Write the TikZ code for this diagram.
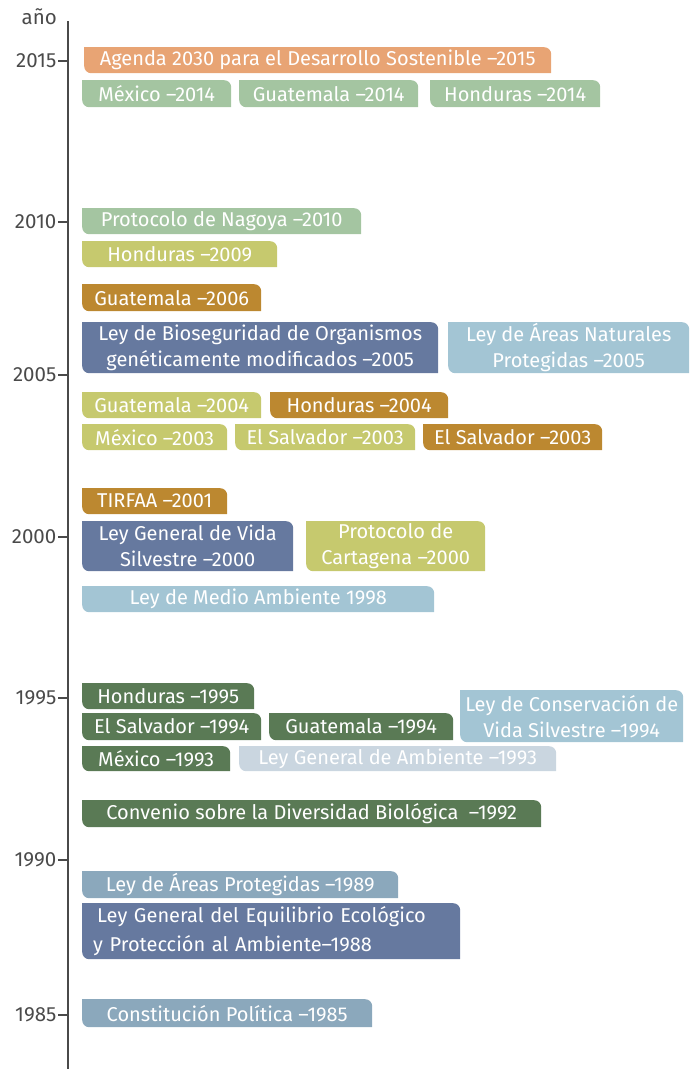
\documentclass[tikz,border=0pt]{standalone}
\usepackage{fontspec}
\newfontfamily\hitofont{Fira Sans}
\usetikzlibrary{positioning}
\definecolor{naranja}{HTML}{E8A474}
\definecolor{verdeclaro}{HTML}{A4C5A1}
\definecolor{amarillo}{HTML}{C6C96E}
\definecolor{ocre}{HTML}{BC8830}
\definecolor{azulpizarra}{HTML}{66799F}
\definecolor{celeste}{HTML}{A3C5D4}
\definecolor{verdeoscuro}{HTML}{5A7A55}
\definecolor{palido}{HTML}{CAD6E0}
\definecolor{grisazul}{HTML}{8BA8BC}
\definecolor{gris}{HTML}{4A4A4A}
\tikzset{
  hito/.style={
    inner sep=0pt,
    anchor=north west,
    align=center,
    text=white,
    font=\hitofont\fontsize{20}{26}\selectfont,
    path picture={
      \fill[#1] (path picture bounding box.north west)
        -- ([xshift=-7pt]path picture bounding box.north east)
        arc[start angle=90, end angle=0, radius=7pt]
        -- (path picture bounding box.south east)
        -- ([xshift=7pt]path picture bounding box.south west)
        arc[start angle=270, end angle=180, radius=7pt]
        -- cycle;
    }
  },
  caja/.style 2 args={minimum width=#1pt, minimum height=#2pt},
  eje/.style={draw=gris, line width=1.3pt},
  anio/.style={anchor=east, text=gris, inner sep=0pt, font=\hitofont\fontsize{20.5}{22}\selectfont}
}

\begin{document}
\begin{tikzpicture}[x=1pt, y=-1pt]
  \useasboundingbox (0,0) rectangle (696,1069);

  \node[anio] (titulo) at (57,17) {año};
  \coordinate (ejearriba) at (68,21);
  \coordinate (ejeabajo) at (68,1069);
  \draw[eje] (ejearriba) -- (ejeabajo);
  \foreach \anio/\y in {2015/61, 2010/222, 2005/375, 2000/537, 1995/698, 1990/860, 1985/1015} {
    \coordinate (t\anio) at (68,\y);
    \draw[eje] (t\anio) -- ++(-10,0) node[anio, left=1pt] (l\anio) {\anio};
  }

  \node[hito=naranja, caja={467}{26}] (agenda) at (84,47) {Agenda 2030 para el Desarrollo Sostenible –2015};
  \node[hito=verdeclaro, caja={149}{27}] (mex14) at (82,80) {México –2014};
  \node[hito=verdeclaro, caja={179}{27}] (gua14) at (239,80) {Guatemala –2014};
  \node[hito=verdeclaro, caja={170}{27}] (hon14) at (430,80) {Honduras –2014};

  \node[hito=verdeclaro, caja={279}{26}] (nagoya) at (82,208) {Protocolo de Nagoya –2010};
  \node[hito=amarillo, caja={195}{26}] (hon09) at (82,241) {Honduras –2009};
  \node[hito=ocre, caja={179}{27}] (gua06) at (82,284) {Guatemala –2006};
  \node[hito=azulpizarra, caja={356}{51}] (bioseg) at (82,322) {Ley de Bioseguridad de Organismos\\genéticamente modificados –2005};
  \node[hito=celeste, caja={241}{51}] (anp05) at (448,322) {Ley de Áreas Naturales\\Protegidas –2005};
  \node[hito=amarillo, caja={179}{26}] (gua04) at (82,392) {Guatemala –2004};
  \node[hito=ocre, caja={178}{26}] (hon04) at (270,392) {Honduras –2004};
  \node[hito=amarillo, caja={145}{26}] (mex03) at (82,424) {México –2003};
  \node[hito=amarillo, caja={180}{26}] (sal03a) at (235,424) {El Salvador –2003};
  \node[hito=ocre, caja={179}{26}] (sal03b) at (423,424) {El Salvador –2003};

  \node[hito=ocre, caja={145}{26}] (tirfaa) at (82,488) {TIRFAA –2001};
  \node[hito=azulpizarra, caja={211}{50}] (lgvs) at (82,521) {Ley General de Vida\\Silvestre –2000};
  \node[hito=amarillo, caja={179}{50}] (cartagena) at (306,521) {Protocolo de\\Cartagena –2000};
  \node[hito=celeste, caja={352}{26}] (medioamb) at (82,586) {Ley de Medio Ambiente 1998};

  \node[hito=verdeoscuro, caja={172}{26}] (hon95) at (82,683) {Honduras –1995};
  \node[hito=verdeoscuro, caja={179}{27}] (sal94) at (82,713) {El Salvador –1994};
  \node[hito=verdeoscuro, caja={184}{27}] (gua94) at (269,713) {Guatemala –1994};
  \node[hito=celeste, caja={223}{52}] (conserv) at (460,690) {Ley de Conservación de\\Vida Silvestre –1994};
  \node[hito=verdeoscuro, caja={148}{25}] (mex93) at (82,746) {México –1993};
  \node[hito=palido, caja={317}{25}] (lga93) at (239,746) {Ley General de Ambiente –1993};
  \node[hito=verdeoscuro, caja={459}{27}] (convenio) at (82,800) {Convenio sobre la Diversidad Biológica \ –1992};

  \node[hito=grisazul, caja={316}{27}] (ap89) at (82,871) {Ley de Áreas Protegidas –1989};
  \node[hito=azulpizarra, caja={378}{56}, align=left, text width=356pt, inner xsep=11pt,
        font=\hitofont\fontsize{20}{29}\selectfont] (equilibrio) at (82,903) {\hspace*{4pt}Ley General del Equilibrio Ecológico\\y Protección al Ambiente–1988};
  \node[hito=grisazul, caja={290}{28}] (constit) at (82,999) {Constitución Política –1985};
\end{tikzpicture}
\end{document}
